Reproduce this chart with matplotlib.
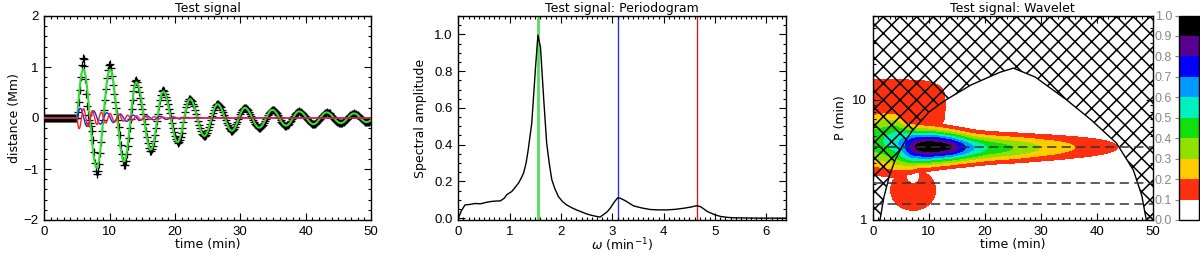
import numpy as np
import matplotlib
matplotlib.use("Agg")
import matplotlib.pyplot as plt
from matplotlib.colors import ListedColormap, BoundaryNorm
from matplotlib.ticker import MultipleLocator, FixedLocator, FixedFormatter, NullFormatter

plt.rcParams['font.family'] = ['DejaVu Sans']
plt.rcParams['mathtext.fontset'] = 'dejavusans'
plt.rcParams['hatch.linewidth'] = 1.1
FS = 9
TICK_FONT = {'family': 'Liberation Sans', 'size': 9.5}

# ---------------- data ----------------
# test signal: extrema (time in min, value in Mm) of the three components
green_ext_t = [5.0, 5.97, 8.0, 10.05, 12.2, 14.1, 16.3, 18.2, 20.4, 22.3, 24.5, 26.5,
               28.7, 30.7, 32.9, 34.9, 37.0, 39.0, 41.2, 43.2, 45.4, 47.4, 49.3, 51.4]
green_ext_v = [0.0, 0.96, -0.97, 0.95, -0.85, 0.70, -0.62, 0.52, -0.47, 0.37, -0.35, 0.27,
               -0.25, 0.20, -0.19, 0.16, -0.15, 0.13, -0.12, 0.11, -0.10, 0.09, -0.08, 0.07]
blue_ext_t = [5.0, 5.51, 6.52, 7.54, 8.55, 9.57, 10.58, 11.6, 12.6, 13.6, 14.6, 15.7,
              16.7, 17.7, 18.7, 19.7, 20.7, 21.2]
blue_ext_v = [0.0, 0.19, -0.163, 0.140, -0.121, 0.104, -0.089, 0.077, -0.066, 0.057, -0.049,
              0.042, -0.036, 0.031, -0.027, 0.023, -0.02, 0.0]
red_ext_t = [5.0, 5.34, 6.01, 6.69, 7.36, 8.04, 8.71, 9.39, 10.06, 10.74, 11.41, 12.09,
             12.76, 13.44, 14.11, 14.79, 15.46, 16.14, 16.81, 17.49, 18.16, 18.5]
red_ext_v = [0.0, -0.21, 0.185, -0.165, 0.145, -0.128, 0.114, -0.100, 0.089, -0.079, 0.070,
             -0.062, 0.055, -0.048, 0.043, -0.038, 0.034, -0.030, 0.026, -0.023, 0.021, 0.0]
sample_step = 0.15           # cadence of the "+" samples (min)

# periodogram
pg_omega = [0.00, 0.06, 0.13, 0.23, 0.33, 0.43, 0.53, 0.62, 0.72, 0.82, 0.90, 0.94, 1.04,
            1.10, 1.17, 1.22, 1.27, 1.32, 1.36, 1.43, 1.50, 1.55, 1.60, 1.66, 1.72, 1.77,
            1.82, 1.88, 1.95, 2.03, 2.11, 2.20, 2.30, 2.40, 2.50, 2.60, 2.70, 2.76, 2.83,
            2.90, 2.96, 3.03, 3.10, 3.15, 3.25, 3.41, 3.58, 3.74, 3.90, 4.06, 4.22, 4.39,
            4.52, 4.64, 4.72, 4.85, 4.98, 5.11, 5.25, 5.37, 5.60, 5.90, 6.20, 6.38]
pg_amp = [0.00, 0.04, 0.072, 0.075, 0.08, 0.078, 0.085, 0.09, 0.093, 0.094, 0.11, 0.127,
          0.145, 0.165, 0.19, 0.215, 0.245, 0.30, 0.37, 0.516, 0.806, 0.996, 0.93, 0.66,
          0.41, 0.30, 0.21, 0.16, 0.117, 0.09, 0.072, 0.058, 0.045, 0.034, 0.023, 0.015,
          0.009, 0.006, 0.02, 0.035, 0.055, 0.085, 0.11, 0.109, 0.095, 0.067, 0.055, 0.047,
          0.045, 0.045, 0.048, 0.054, 0.06, 0.068, 0.062, 0.036, 0.02, 0.009, 0.004, 0.002,
          0.001, 0.0, 0.0, 0.0]
comp_omega = [1.55, 3.10, 4.65]
comp_colors = ['#55dd55', '#3030dd', '#cc2020']
comp_widths = [2.0, 1.0, 1.0]

# wavelet ridge (power, centre log10 P, width in log10 P) along time
wv_t = [0, 2, 4, 5, 6, 7, 8, 10, 12, 14, 15.3, 16.5, 18, 20.3, 23, 25, 29.8, 36, 43.7, 50]
wv_amp = [0.45, 0.5, 0.56, 0.62, 0.72, 0.84, 0.93, 1.0, 0.97, 0.9, 0.8, 0.7, 0.6, 0.5,
          0.44, 0.4, 0.3, 0.2, 0.1, 0.05]
wv_logp = [0.66, 0.66, 0.65, 0.63, 0.615, 0.61, 0.61, 0.61, 0.61, 0.607, 0.605, 0.603,
           0.60, 0.60, 0.60, 0.60, 0.602, 0.605, 0.607, 0.607]
wv_sig = [0.165, 0.165, 0.16, 0.14, 0.12, 0.11, 0.10, 0.095, 0.09, 0.085, 0.083, 0.082,
          0.08, 0.078, 0.076, 0.076, 0.075, 0.075, 0.075, 0.075]
# edge blobs: (power, t centre, log10P centre, t width, log10P width)
blob_upper = (0.17, 3.0, 0.95, 11.6, 0.254)
blob_lower = (0.17, 7.2, 0.25, 5.5, 0.233)
blob_hole = (7.2, 0.35, 1.0, 0.045)

# cone of influence
coi_time = [0.0, 1.3, 2.0, 3.0, 4.0, 5.5, 7.0, 10.0, 12.9, 17.5, 22.7, 25.1,
            29.0, 34.6, 39.0, 43.5, 46.5, 48.0, 48.8, 50.0]
coi_period = [0.6, 1.0, 1.55, 2.35, 3.16, 4.3, 5.5, 7.9, 9.9, 13.3, 17.0, 18.4,
              15.5, 10.0, 6.8, 4.36, 2.6, 1.6, 1.0, 0.6]

cb_levels = [0.0, 0.1, 0.2, 0.3, 0.4, 0.5, 0.6, 0.7, 0.8, 0.9, 1.0]
cb_colors = ['#ffffff', '#ff3010', '#ffcc00', '#90e000', '#10e010', '#00f0c0',
             '#0099ff', '#0000ff', '#5a0090', '#000000']


def wave_through(ext_t, ext_v, t):
    """smooth arcs through consecutive extrema"""
    out = np.zeros_like(t)
    for k in range(len(ext_t) - 1):
        t0, t1 = ext_t[k], ext_t[k + 1]
        v0, v1 = ext_v[k], ext_v[k + 1]
        m = (t >= t0) & (t <= t1)
        f = (t[m] - t0) / (t1 - t0)
        if k == 0 and v0 == 0.0:
            out[m] = v1 * np.sin(0.5 * np.pi * f)
        else:
            out[m] = 0.5 * (v0 + v1) + 0.5 * (v0 - v1) * np.cos(np.pi * f)
    return out


def px_axes(x0, x1, y0, y1, W=1200.0, H=257.0):
    return [x0 / W, 1 - y1 / H, (x1 - x0) / W, (y1 - y0) / H]


def style(ax):
    for s in ax.spines.values():
        s.set_linewidth(1.0)
    ax.tick_params(which='both', direction='in', top=True, right=True,
                   width=0.8, pad=4)
    ax.tick_params(which='major', length=5)
    ax.tick_params(which='minor', length=2.5)
    for lab in ax.get_xticklabels() + ax.get_yticklabels():
        lab.set_fontfamily(TICK_FONT['family'])
        lab.set_fontsize(TICK_FONT['size'])


fig = plt.figure(figsize=(12, 2.57), dpi=100)

# ---------------- panel 1: test signal ----------------
ax1 = fig.add_axes(px_axes(44.3, 371, 16, 220))
t_fine = np.linspace(0, 50, 2501)
g = wave_through(green_ext_t, green_ext_v, t_fine)
b = wave_through(blue_ext_t, blue_ext_v, t_fine)
r = wave_through(red_ext_t, red_ext_v, t_fine)
t_s = np.arange(0, 50 + 1e-6, sample_step)
sig = (wave_through(green_ext_t, green_ext_v, t_s) + wave_through(blue_ext_t, blue_ext_v, t_s)
       + wave_through(red_ext_t, red_ext_v, t_s))
ax1.plot(t_s, sig, ls='none', marker='+', ms=5.5, mew=0.9, color='black', zorder=2)
ax1.plot(t_fine, g, color='#33dd33', lw=1.5, zorder=3)
ax1.plot(t_fine, b, color='#2020ff', lw=1.0, zorder=4)
ax1.plot(t_fine, r, color='#ff2020', lw=1.0, zorder=5)
ax1.set_xlim(0, 50)
ax1.set_ylim(-2, 2)
ax1.xaxis.set_major_locator(MultipleLocator(10))
ax1.xaxis.set_minor_locator(MultipleLocator(1))
ax1.yaxis.set_major_locator(MultipleLocator(1))
ax1.yaxis.set_minor_locator(MultipleLocator(0.2))
style(ax1)
ax1.set_title('Test signal', fontsize=FS, pad=3)
ax1.set_xlabel('time (min)', fontsize=FS, labelpad=0)
ax1.set_ylabel('distance (Mm)', fontsize=FS, labelpad=2)

# ---------------- panel 2: periodogram ----------------
ax2 = fig.add_axes(px_axes(458.3, 786, 16, 220))
for om, c, lw in zip(comp_omega, comp_colors, comp_widths):
    ax2.axvline(om, color=c, lw=lw, zorder=1)
ax2.plot(pg_omega, pg_amp, color='black', lw=1.0, zorder=2)
ax2.set_xlim(0, 6.38)
ax2.set_ylim(-0.01, 1.1)
ax2.xaxis.set_major_locator(MultipleLocator(1))
ax2.xaxis.set_minor_locator(MultipleLocator(0.1))
ax2.yaxis.set_major_locator(MultipleLocator(0.2))
ax2.yaxis.set_minor_locator(MultipleLocator(0.05))
ax2.yaxis.set_major_formatter(matplotlib.ticker.FormatStrFormatter('%.1f'))
style(ax2)
ax2.set_title('Test signal: Periodogram', fontsize=FS, pad=3)
ax2.set_xlabel(r'$\omega$ (min$^{-1}$)', fontsize=FS, labelpad=-1)
ax2.set_ylabel('Spectral amplitude', fontsize=FS, labelpad=5)

# ---------------- panel 3: wavelet ----------------
ax3 = fig.add_axes(px_axes(872.7, 1153, 16, 220))
tt = np.linspace(0, 50, 501)
lp = np.linspace(0, np.log10(50), 400)
T, LP = np.meshgrid(tt, lp)
A = np.interp(T, wv_t, wv_amp)
C = np.interp(T, wv_t, wv_logp)
S = np.interp(T, wv_t, wv_sig)
ridge = A * np.exp(-0.5 * ((LP - C) / S) ** 2)
a, t0, p0, wt, wp = blob_upper
up = a * np.exp(-(np.abs(T - t0) / wt) ** 4 - (np.abs(LP - p0) / wp) ** 4)
a, t0, p0, wt, wp = blob_lower
low = a * np.exp(-((T - t0) / wt) ** 2 - ((LP - p0) / wp) ** 2)
ht, hp, hwt, hwp = blob_hole
low = low * (1 - np.exp(-((T - ht) / hwt) ** 2 - ((LP - hp) / hwp) ** 2))
power = np.maximum(ridge, np.maximum(up, low))
lev = cb_levels[1:-1] + [1.05]
ax3.contourf(T, 10 ** LP, power, levels=lev, colors=cb_colors[1:], zorder=1)
ax3.set_yscale('log')
ax3.fill_between(coi_time, coi_period, 60, facecolor='none', edgecolor='black',
                 hatch='xx', linewidth=0, zorder=2)
ax3.plot(coi_time, coi_period, color='black', lw=1.0, zorder=3)
for om in comp_omega:
    ax3.axhline(2 * np.pi / om, color='#333333', lw=1.1, dashes=(6, 3.5), zorder=4)
ax3.set_xlim(0, 50)
ax3.set_ylim(1, 50)
ax3.xaxis.set_major_locator(MultipleLocator(10))
ax3.xaxis.set_minor_locator(MultipleLocator(1))
ax3.yaxis.set_major_locator(FixedLocator([1, 10]))
ax3.yaxis.set_major_formatter(FixedFormatter(['1', '10']))
ax3.yaxis.set_minor_locator(FixedLocator([2, 3, 4, 5, 6, 7, 8, 9, 20, 30, 40, 50]))
ax3.yaxis.set_minor_formatter(NullFormatter())
style(ax3)
ax3.set_title('Test signal: Wavelet', fontsize=FS, pad=3)
ax3.set_xlabel('time (min)', fontsize=FS, labelpad=0)
ax3.set_ylabel('P (min)', fontsize=FS, labelpad=4)

# ---------------- colour bar ----------------
cax = fig.add_axes(px_axes(1179, 1199, 15.5, 220))
cmap = ListedColormap(cb_colors)
norm = BoundaryNorm(cb_levels, cmap.N)
cb = fig.colorbar(matplotlib.cm.ScalarMappable(norm=norm, cmap=cmap), cax=cax,
                  ticks=cb_levels)
cb.outline.set_linewidth(1.0)
cax.yaxis.set_ticks_position('left')
cax.yaxis.set_major_formatter(matplotlib.ticker.FormatStrFormatter('%.1f'))
cax.tick_params(direction='out', length=3, width=0.8, color='#888888',
                labelcolor='#888888', pad=2)
for lab in cax.get_yticklabels():
    lab.set_fontfamily(TICK_FONT['family'])
    lab.set_fontsize(9)

fig.savefig('out.png', dpi=100)
